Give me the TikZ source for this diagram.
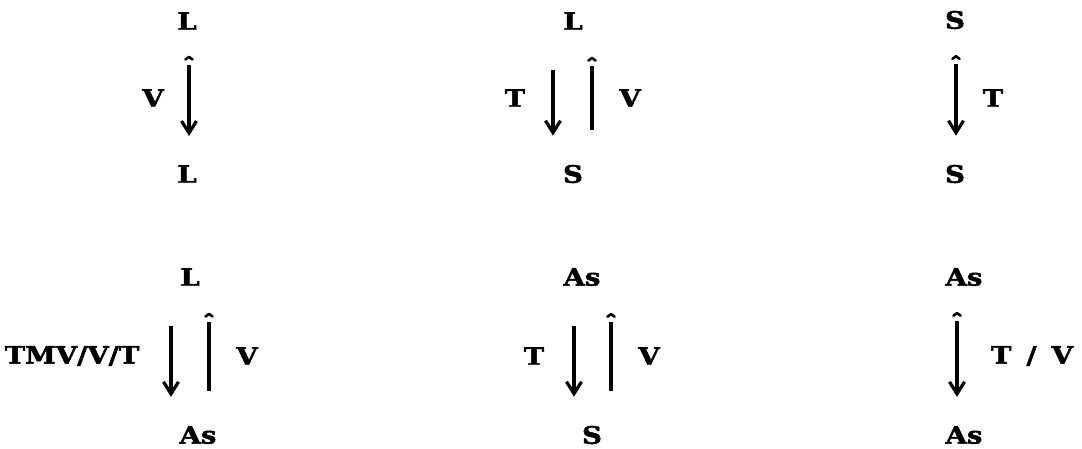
\documentclass[tikz,border=0pt]{standalone}
\usepackage{fontspec}
\newfontfamily\dotfont[FakeStretch=1.15,FakeBold=2]{DejaVu Serif}
\usetikzlibrary{arrows.meta}
% small hat tip, set off from the line end
\pgfdeclarearrow{
  name=Hat,
  setup code={
    \pgfarrowssettipend{0pt}
    \pgfarrowssetbackend{-3pt}
    \pgfarrowssetlineend{-8pt}
  },
  drawing code={
    \pgfsetlinewidth{2.6pt}\pgfsetroundcap\pgfsetroundjoin\pgfsetdash{}{0pt}
    \pgfpathmoveto{\pgfqpoint{-2.6pt}{3.6pt}}
    \pgfpathlineto{\pgfqpoint{0pt}{0pt}}
    \pgfpathlineto{\pgfqpoint{-2.6pt}{-3.6pt}}
    \pgfusepathqstroke
  }
}
\tikzset{
  obj/.style={font=\dotfont\bfseries\fontsize{24}{28}\selectfont,inner sep=0pt,minimum height=17pt},
  lbl/.style={obj},
  arr/.style={line width=3.4pt},
  dnarr/.style={arr,-{Straight Barb[width=15pt,length=12pt,line width=3.2pt]},shorten <=40pt,shorten >=29pt},
  uparr/.style={arr,-{Hat},shorten <=35pt,shorten >=28pt},
  dblarr/.style={arr,{Hat}-{Straight Barb[width=15pt,length=12pt,line width=3.2pt]},shorten <=27pt,shorten >=29pt}
}
\begin{document}
\begin{tikzpicture}[x=1pt,y=-1pt]
  \useasboundingbox (0,0) rectangle (1082,449);
  % top row
  \node[obj] (l1t) at (187,21) {L};
  \node[obj] (l1b) at (187,174) {L};
  \node[lbl] (v1) at (153,98) {V};
  \draw[dblarr] ([xshift=2pt]l1t.south) -- ([xshift=2pt]l1b.north);

  \node[obj] (l2t) at (573,21) {L};
  \node[obj] (s2b) at (573,174) {S};
  \node[lbl] (t2) at (515,98) {T};
  \node[lbl] (v2) at (630,98) {V};
  \draw[dnarr] ([xshift=-20pt]l2t.south) -- ([xshift=-20pt]s2b.north);
  \draw[uparr] ([xshift=19pt]s2b.north) -- ([xshift=19pt]l2t.south);

  \node[obj] (s3t) at (955,20) {S};
  \node[obj] (s3b) at (955,174) {S};
  \node[lbl] (t3) at (993,98) {T};
  \draw[dblarr] ([xshift=1pt]s3t.south) -- ([xshift=1pt]s3b.north);

  % bottom row
  \node[obj] (l4t) at (190,277) {L};
  \node[obj] (as4b) at (198,435) {As};
  \node[lbl] (tmv4) at (72,356) {TMV/V/T};
  \node[lbl] (v4) at (247,356) {V};
  \draw[dnarr] ([xshift=-19pt]l4t.south) -- ([xshift=-27pt]as4b.north);
  \draw[uparr] ([xshift=11pt]as4b.north) -- ([xshift=19pt]l4t.south);

  \node[obj] (as5t) at (582,277) {As};
  \node[obj] (s5b) at (592,435) {S};
  \node[lbl] (t5) at (534,356) {T};
  \node[lbl] (v5) at (649,356) {V};
  \draw[dnarr] ([xshift=-8pt]as5t.south) -- ([xshift=-18pt]s5b.north);
  \draw[uparr] ([xshift=19pt]s5b.north) -- ([xshift=29pt]as5t.south);

  \node[obj] (as6t) at (964,277) {As};
  \node[obj] (as6b) at (964,435) {As};
  \node[lbl] (tv6) at (1032,356) {T\hspace{15pt}/\hspace{15pt}V};
  \draw[dblarr] ([xshift=-7pt]as6t.south) -- ([xshift=-7pt]as6b.north);
\end{tikzpicture}
\end{document}
